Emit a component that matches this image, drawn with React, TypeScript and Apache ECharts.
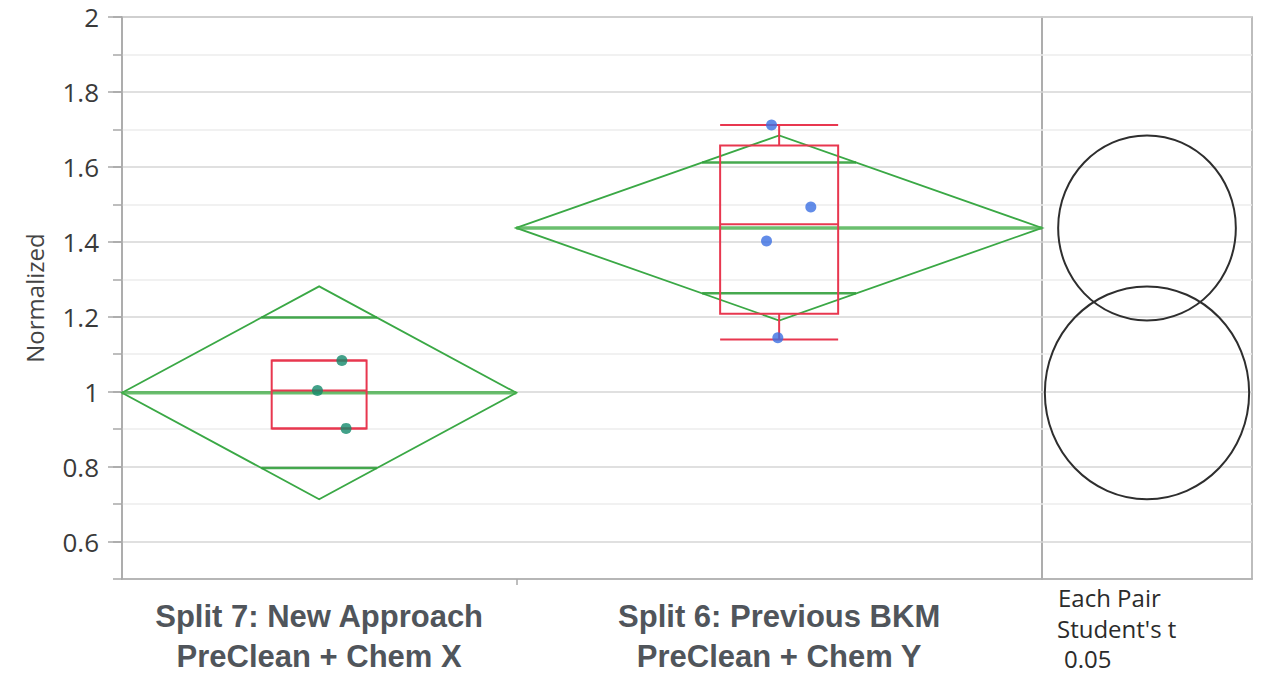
import React, { useEffect, useRef } from "react";
import * as echarts from "echarts";

// Groups of the one-way analysis (sample sizes set the widths of the means diamonds)
const groupNames = [
  "Split 7: New Approach\nPreClean + Chem X",
  "Split 6: Previous BKM\nPreClean + Chem Y",
];
const groupCounts = [3, 4];
const groupMeans = [0.997, 1.437];
const groupCI95 = [0.284, 0.247]; // half-height of each means diamond (95% CI)

// Individual observations and their horizontal jitter inside the group
const pointValues1 = [1.083, 1.003, 0.902];
const pointJitter1 = [0.173, -0.013, 0.205];
const pointValues2 = [1.712, 1.493, 1.402, 1.144];
const pointJitter2 = [-0.058, 0.241, -0.096, -0.01];

// Box plot summaries per group
const boxMin = [0.902, 1.139];
const boxQ1 = [0.902, 1.208];
const boxMedian = [1.003, 1.447];
const boxQ3 = [1.083, 1.657];
const boxMax = [1.083, 1.712];
const boxHalfWidth = [0.361, 0.449];

// Axis labels
const yTickValues = [0.6, 0.8, 1, 1.2, 1.4, 1.6, 1.8, 2];
const yAxisTitle = "Normalized";
const testLabels = ["Each Pair", "Student's t", "0.05"];

const AXIS_GRAY = "#a8a8a8";
const MAJOR_GRID = "#d6d6d6";
const MINOR_GRID = "#ececec";
const DIAMOND_GREEN = "#3aa845";
const BOX_RED = "#e8374f";

export default function App() {
  const ref = useRef<HTMLDivElement>(null);

  useEffect(() => {
    if (!ref.current) return;
    const chart = echarts.init(ref.current, undefined, { renderer: "svg" });

    // group extents along the x scale, each as wide as its sample size
    const starts: number[] = [];
    const ends: number[] = [];
    let acc = 0;
    groupCounts.forEach((n) => {
      starts.push(acc);
      acc += n;
      ends.push(acc);
    });
    const centers = starts.map((s, i) => (s + ends[i]) / 2);
    const total = acc;

    const diamondData = groupCounts.map((_, i) => [starts[i], ends[i], groupMeans[i], groupCI95[i]]);
    const boxData = groupCounts.map((_, i) => [
      centers[i],
      boxHalfWidth[i],
      boxMin[i],
      boxQ1[i],
      boxMedian[i],
      boxQ3[i],
      boxMax[i],
    ]);
    const circleData = groupCounts.map((_, i) => [0.5, groupMeans[i], groupCI95[i]]);
    const points1 = pointValues1.map((v, i) => [centers[0] + pointJitter1[i], v]);
    const points2 = pointValues2.map((v, i) => [centers[1] + pointJitter2[i], v]);

    const axisLineStyle = { color: AXIS_GRAY, width: 1.5 };

    const option: any = {
      animation: false,
      backgroundColor: "#ffffff",
      grid: [
        {
          left: 122, top: 17, width: 920, height: 562,
          outerBoundsMode: "none", containLabel: false,
          show: true, borderColor: AXIS_GRAY, borderWidth: 1.5,
        },
        {
          left: 1042, top: 17, width: 210, height: 562,
          outerBoundsMode: "none", containLabel: false,
          show: true, borderColor: AXIS_GRAY, borderWidth: 1.5,
        },
      ],
      xAxis: [
        {
          gridIndex: 0,
          type: "value",
          min: 0,
          max: total,
          axisLine: { show: true, lineStyle: axisLineStyle },
          axisTick: { show: true, customValues: starts.slice(1), length: 6, lineStyle: axisLineStyle },
          axisLabel: {
            show: true,
            customValues: centers,
            formatter: (v: number) => {
              const i = centers.findIndex((c) => Math.abs(c - v) < 1e-6);
              return i >= 0 ? groupNames[i] : "";
            },
            fontFamily: "Liberation Sans, Arial, sans-serif",
            fontWeight: "bold",
            fontSize: 31,
            lineHeight: 40,
            color: "#50555b",
            margin: 17,
            align: "center",
          },
          splitLine: { show: false },
        },
        {
          gridIndex: 1,
          type: "value",
          min: 0,
          max: 1,
          axisLine: { show: true, lineStyle: axisLineStyle },
          axisTick: { show: false },
          axisLabel: { show: false },
          splitLine: { show: false },
        },
      ],
      yAxis: [
        {
          gridIndex: 0,
          type: "value",
          min: 0.5,
          max: 2,
          interval: 0.1,
          axisLine: { show: true, lineStyle: axisLineStyle },
          axisTick: { show: true, length: 9, lineStyle: axisLineStyle },
          axisLabel: { show: false },
          splitLine: { show: true, lineStyle: { color: [MINOR_GRID, MAJOR_GRID], width: 1.5 } },
        },
        {
          gridIndex: 0,
          type: "value",
          min: 0.5,
          max: 2,
          position: "left",
          axisLine: { show: false },
          axisTick: { show: true, customValues: yTickValues, length: 14, lineStyle: axisLineStyle },
          axisLabel: {
            show: true,
            customValues: yTickValues,
            formatter: (v: number) => String(Math.round(v * 10) / 10),
            fontFamily: "Open Sans, sans-serif",
            fontSize: 26,
            color: "#3a3a3a",
            margin: 23,
          },
          splitLine: { show: false },
          name: yAxisTitle,
          nameLocation: "middle",
          nameGap: 76,
          nameTextStyle: { fontFamily: "Open Sans, sans-serif", fontSize: 24, color: "#444444" },
        },
        {
          gridIndex: 1,
          type: "value",
          min: 0.5,
          max: 2,
          interval: 0.1,
          axisLine: { show: false },
          axisTick: { show: false },
          axisLabel: { show: false },
          splitLine: { show: true, lineStyle: { color: [MINOR_GRID, MAJOR_GRID], width: 1.5 } },
        },
      ],
      graphic: [
        {
          type: "text",
          x: 1058,
          y: 597,
          style: { text: testLabels[0], fontFamily: "Open Sans, sans-serif", fontSize: 24, fill: "#2b2b2b", verticalAlign: "middle" },
        },
        {
          type: "text",
          x: 1057,
          y: 628,
          style: { text: testLabels[1], fontFamily: "Open Sans, sans-serif", fontSize: 24, fill: "#2b2b2b", verticalAlign: "middle" },
        },
        {
          type: "text",
          x: 1064,
          y: 658,
          style: { text: testLabels[2], fontFamily: "Open Sans, sans-serif", fontSize: 24, fill: "#2b2b2b", verticalAlign: "middle" },
        },
      ],
      series: [
        {
          // means diamonds with mean line and overlap marks
          type: "custom",
          xAxisIndex: 0,
          yAxisIndex: 0,
          data: diamondData,
          renderItem: (_params: any, api: any) => {
            const x0 = api.value(0);
            const x1 = api.value(1);
            const m = api.value(2);
            const ci = api.value(3);
            const xc = (x0 + x1) / 2;
            const hw = (x1 - x0) / 2;
            const pL = api.coord([x0, m]);
            const pR = api.coord([x1, m]);
            const pT = api.coord([xc, m + ci]);
            const pB = api.coord([xc, m - ci]);
            const k = 1 - Math.SQRT1_2;
            const dOff = ci * Math.SQRT1_2;
            const mk = (y: number) => {
              const a = api.coord([xc - hw * k, y]);
              const b = api.coord([xc + hw * k, y]);
              return {
                type: "line",
                shape: { x1: a[0], y1: a[1], x2: b[0], y2: b[1] },
                style: { stroke: "rgba(50,160,60,0.9)", lineWidth: 2.5 },
              };
            };
            return {
              type: "group",
              children: [
                {
                  type: "polygon",
                  shape: { points: [pL, pT, pR, pB] },
                  style: { fill: "none", stroke: DIAMOND_GREEN, lineWidth: 1.8 },
                },
                {
                  type: "line",
                  shape: { x1: pL[0], y1: pL[1], x2: pR[0], y2: pR[1] },
                  style: { stroke: "rgba(70,175,75,0.8)", lineWidth: 3.5 },
                },
                mk(m + dOff),
                mk(m - dOff),
              ],
            };
          },
          z: 2,
        },
        {
          // box plots
          type: "custom",
          xAxisIndex: 0,
          yAxisIndex: 0,
          data: boxData,
          renderItem: (_params: any, api: any) => {
            const c = api.value(0);
            const h = api.value(1);
            const vMin = api.value(2);
            const q1 = api.value(3);
            const med = api.value(4);
            const q3 = api.value(5);
            const vMax = api.value(6);
            const tl = api.coord([c - h, q3]);
            const br = api.coord([c + h, q1]);
            const medL = api.coord([c - h, med]);
            const medR = api.coord([c + h, med]);
            const top = api.coord([c, vMax]);
            const bot = api.coord([c, vMin]);
            const q3c = api.coord([c, q3]);
            const q1c = api.coord([c, q1]);
            const st = { stroke: BOX_RED, lineWidth: 2, fill: "none" };
            const line = (x1: number, y1: number, x2: number, y2: number) => ({
              type: "line",
              shape: { x1, y1, x2, y2 },
              style: st,
            });
            return {
              type: "group",
              children: [
                { type: "rect", shape: { x: tl[0], y: tl[1], width: br[0] - tl[0], height: br[1] - tl[1] }, style: st },
                line(medL[0], medL[1], medR[0], medR[1]),
                line(top[0], top[1], q3c[0], q3c[1]),
                line(bot[0], bot[1], q1c[0], q1c[1]),
                line(tl[0], top[1], br[0], top[1]),
                line(tl[0], bot[1], br[0], bot[1]),
              ],
            };
          },
          z: 3,
        },
        {
          type: "scatter",
          xAxisIndex: 0,
          yAxisIndex: 0,
          data: points1,
          symbol: "circle",
          symbolSize: 11,
          itemStyle: { color: "#13896b" },
          z: 4,
        },
        {
          type: "scatter",
          xAxisIndex: 0,
          yAxisIndex: 0,
          data: points2,
          symbol: "circle",
          symbolSize: 11,
          itemStyle: { color: "#3b6fe2" },
          z: 4,
        },
        {
          // comparison circles
          type: "custom",
          xAxisIndex: 1,
          yAxisIndex: 2,
          data: circleData,
          renderItem: (_params: any, api: any) => {
            const p = api.coord([api.value(0), api.value(1)]);
            const ry = api.size([0, api.value(2)])[1];
            return {
              type: "ellipse",
              shape: { cx: p[0], cy: p[1], rx: ry * 0.96, ry },
              style: { fill: "none", stroke: "#2e2e2e", lineWidth: 2 },
            };
          },
          z: 2,
        },
      ],
    };

    chart.setOption(option);
    return () => chart.dispose();
  }, []);

  return (
    <div
      ref={ref}
      style={{ position: "absolute", left: 0, top: 0, width: 1261, height: 673, background: "#ffffff" }}
    />
  );
}
